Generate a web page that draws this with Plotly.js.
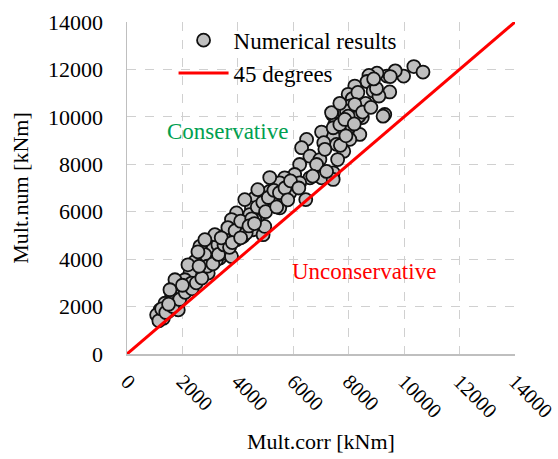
<!DOCTYPE html>
<html>
<head>
<meta charset="utf-8">
<script src="https://cdn.plot.ly/plotly-3.0.1.min.js"></script>
<style>html,body{margin:0;padding:0;background:#fff;}#chart{width:558px;height:459px;}</style>
</head>
<body>
<div id="chart"></div>
<script>
// Numerical results: Mult.corr [kNm]
var multCorr = [10350,10680,9980,9680,9380,9020,8730,8660,8220,7980,8130,8880,9480,9090,8610,8060,7920,7410,9300,9240,8490,7500,7980,8400,7680,7440,8040,7560,7820,
  7020,7440,7680,8370,7380,7980,7100,6480,6300,6600,6960,6840,6230,6050,5690,5510,5940,6600,7020,7440,7440,5450,5630,5150,
  6230,5870,5330,5030,5510,4610,4490,3950,4190,3770,4550,4910,4970,4190,3830,3470,3050,3950,3590,3170,2930,3350,2630,
  3110,3530,2810,2450,3230,3770,2690,2930,2270,2090,2330,1790,1970,1610,1370,1790,1190,1490,1070,1310,1850,
  6450,4250,4720,4870,5150,4430,4070,3640,3280,2200,1730,1550,2160,1150,8330,7680,8220,7860,7140,3170,2810,2560,5150,4790,4610,4360,
  1250,1400,1650,1900,2100,2350,2500,2700,2900,3100,3300,3500,3700,3900,4100,4300,4500,4700,4900,5100,5300,5500,5700,5900,
  4400,3400,2600,2000,1500,3800,4100,4600,5000,5400,5800,6200,6700,7200,7600,7700,7900,8200,8500,8800,9000,9500,8900];
// Numerical results: Mult.num [kNm]
var multNum = [12120,11890,11720,11940,11720,11840,11750,11490,11300,10950,10770,11090,11050,10880,10570,10460,10240,10100,10100,10030,9970,9680,9540,9260,9400,9190,9050,8840,8550,
  9360,9540,9680,10030,10180,10030,8910,9050,8700,8340,8200,7990,7990,7570,7430,7220,7070,7430,7430,7640,7360,6720,6440,6860,
  7220,6790,6720,6510,6160,6580,6160,5950,5590,5670,5240,5030,5380,4960,5100,4960,4820,4820,4470,4400,4050,4050,4540,
  4470,4260,4190,3900,3970,4110,3550,3410,3410,3130,2990,2780,2490,2420,2140,2140,1860,1790,1650,1510,1860,
  6510,6510,6930,6090,6300,5880,5330,5330,4610,3760,3130,2710,2710,1400,11030,10570,10530,9890,8630,5030,4820,4310,7440,5880,5670,5450,
  1900,1750,2000,2300,2600,2750,3000,3200,3700,3800,4200,4600,4500,5200,5600,5100,5700,6200,6400,6600,6900,6800,7000,7300,
  5400,4900,3700,2900,2100,4700,4900,5500,6000,6200,6500,7000,7500,7700,8200,8800,9200,9700,10200,10400,11200,11700,11600];
// 45 degrees reference line
var lineX = [0, 14000];
var lineY = [0, 14000];
var tickVals = [0,2000,4000,6000,8000,10000,12000,14000];
var tickText = ['0','2000','4000','6000','8000','10000','12000','14000'];

function serifFont(size, color) { return {family: 'Liberation Serif', size: size, color: color || '#000000'}; }
var traces = [
  {x: multCorr, y: multNum, type: 'scatter', mode: 'markers', name: 'Numerical results',
   marker: {size: 13, color: '#bfbfbf', line: {color: '#111111', width: 1.8}}},
  {x: lineX, y: lineY, type: 'scatter', mode: 'lines', name: '45 degrees',
   line: {color: '#ff0000', width: 3}}
];
var layout = {
  width: 558, height: 459,
  margin: {l: 127, r: 43, t: 22, b: 105},
  paper_bgcolor: '#ffffff', plot_bgcolor: '#ffffff',
  font: serifFont(22),
  showlegend: true,
  legend: {x: 0.12, y: 1.01, xanchor: 'left', yanchor: 'top', bgcolor: 'rgba(0,0,0,0)',
           font: serifFont(23), itemwidth: 50, tracegroupgap: 0},
  xaxis: {range: [0, 14000], tickvals: tickVals, ticktext: tickText, tickangle: 45,
    showline: true, linecolor: '#bfbfbf', linewidth: 1.5, zeroline: false, ticks: '',
    ticklabelstandoff: 6, ticklabeloverflow: 'allow', tickfont: serifFont(20.5),
    gridcolor: '#d0d0d0', griddash: 'dash', gridwidth: 1,
    title: {text: 'Mult.corr [kNm]', font: serifFont(22), standoff: 12}},
  yaxis: {range: [0, 14000], tickvals: tickVals, ticktext: tickText,
    showline: true, linecolor: '#bfbfbf', linewidth: 1.5, zeroline: false, ticks: '',
    ticklabelstandoff: 18, ticklabeloverflow: 'allow', tickfont: serifFont(22),
    gridcolor: '#d0d0d0', griddash: 'dash', gridwidth: 1,
    title: {text: 'Mult.num [kNm]', font: serifFont(22), standoff: 13}},
  annotations: [
    {x: 3620, y: 9390, xref: 'x', yref: 'y', text: 'Conservative', showarrow: false,
     font: serifFont(23, '#00a050')},
    {x: 8540, y: 3470, xref: 'x', yref: 'y', text: 'Unconservative', showarrow: false,
     font: serifFont(23, '#ff0000')}
  ]
};
Plotly.newPlot('chart', traces, layout, {displayModeBar: false, staticPlot: true});
</script>
</body>
</html>
